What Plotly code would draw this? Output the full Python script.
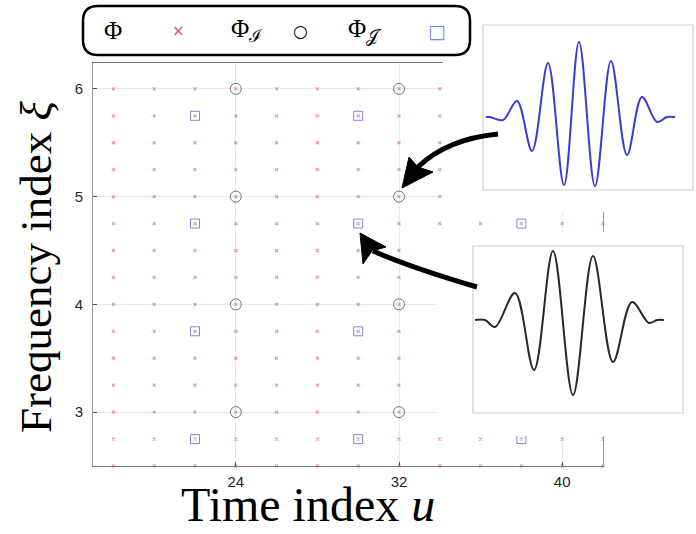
import numpy as np
import plotly.graph_objects as go

W, H = 696, 534

# ---------------- data ----------------
u_phi = [18, 20, 22, 24, 26, 28, 30, 32, 34, 36, 38, 40, 42]
xi_phi = [2.5, 2.75, 3.0, 3.25, 3.5, 3.75, 4.0, 4.25, 4.5, 4.75, 5.0, 5.25, 5.5, 5.75, 6.0, 6.25]
u_I = [24, 32, 40]
xi_I = [3, 4, 5, 6]
u_J = [22, 30, 38]
xi_J = [2.75, 3.75, 4.75, 5.75]

x_ticks = [24, 32, 40]
x_ticklabels = ["24", "32", "40"]
y_ticks = [3, 4, 5, 6]
y_ticklabels = ["3", "4", "5", "6"]

# wavelet sketches (t: horizontal position inside inset, a: height above baseline)
wave1_t = [3, 7, 20, 34, 49, 65, 81, 96, 112, 128, 144, 159, 174, 184, 192]
wave1_a = [0, 0, -3, 16, -34, 54, -68, 75, -69, 56, -38, 20, -5, 0, 0]
wave2_t = [2, 12, 22, 42, 61, 80, 100, 120, 140, 159, 176, 184, 191]
wave2_a = [0, 0, -7, 27, -50, 69, -75, 64, -42, 18, -3, 0, 0]


def P(x, y):
    return x / W, 1 - y / H


def mesh(us, xis):
    U, X = np.meshgrid(us, xis)
    return U.ravel().tolist(), X.ravel().tolist()


phi_x, phi_y = mesh(u_phi, xi_phi)
I_x, I_y = mesh(u_I, xi_I)
J_x, J_y = mesh(u_J, xi_J)

fig = go.Figure()
fig.add_trace(go.Scatter(x=phi_x, y=phi_y, mode="markers", name="Φ", cliponaxis=False,
                         marker=dict(symbol="x-thin", size=3,
                                     line=dict(color="rgba(225,80,105,0.6)", width=1.2)),
                         xaxis="x", yaxis="y", showlegend=False))
fig.add_trace(go.Scatter(x=J_x, y=J_y, mode="markers", name="ΦJ", cliponaxis=False,
                         marker=dict(symbol="square-open", size=9,
                                     color="rgba(110,110,215,0.85)", line=dict(width=1)),
                         xaxis="x", yaxis="y", showlegend=False))
fig.add_trace(go.Scatter(x=I_x, y=I_y, mode="markers", name="ΦI", cliponaxis=False,
                         marker=dict(symbol="circle-open", size=11,
                                     color="rgba(90,90,90,0.85)", line=dict(width=1)),
                         xaxis="x", yaxis="y", showlegend=False))

# inset waves (their subplots also mask the plot behind them)
fig.add_trace(go.Scatter(x=wave1_t, y=wave1_a, mode="lines", xaxis="x2", yaxis="y2",
                         line=dict(color="#3b3bd6", width=2, shape="spline", smoothing=1.0),
                         showlegend=False))
fig.add_trace(go.Scatter(x=wave2_t, y=wave2_a, mode="lines", xaxis="x3", yaxis="y3",
                         line=dict(color="#2a2a2a", width=2, shape="spline", smoothing=1.0),
                         showlegend=False))

# main axes geometry (pixels)
L, R, T, B = 93, 603, 63, 466

tickfont = dict(family="Arial, Liberation Sans, sans-serif", size=15, color="#262626")
hidden = dict(showline=False, showgrid=False, zeroline=False, showticklabels=False, ticks="")

fig.update_layout(
    width=W, height=H, margin=dict(l=0, r=0, t=0, b=0), autosize=False,
    paper_bgcolor="white", plot_bgcolor="white", showlegend=False,
    xaxis=dict(domain=[L / W, R / W], range=[17, 42], tickvals=x_ticks, ticktext=x_ticklabels,
               showgrid=True, gridcolor="#e8e8e8", gridwidth=1, zeroline=False,
               showline=True, linecolor="#7a7a7a", linewidth=1, mirror=True,
               ticks="inside", ticklen=4, tickcolor="#555", tickfont=tickfont, anchor="y",
               ticklabelstandoff=2),
    yaxis=dict(domain=[1 - B / H, 1 - T / H], range=[2.5, 6.24], tickvals=y_ticks, ticktext=y_ticklabels,
               showgrid=True, gridcolor="#e8e8e8", gridwidth=1, zeroline=False,
               showline=True, linecolor="#9a9a9a", linewidth=1, mirror=True,
               ticks="inside", ticklen=4, tickcolor="#555", tickfont=tickfont, anchor="x",
               ticklabelstandoff=6),
    # inset 1: pixel region x 443..696, y 0..212 ; box left 483, baseline 117
    xaxis2=dict(domain=[443 / W, 1], range=[443 - 483, 696 - 483], anchor="y2", **hidden),
    yaxis2=dict(domain=[1 - 212 / H, 1], range=[117 - 212, 117 - 0], anchor="x2", **hidden),
    # inset 2: pixel region x 437..696, y 232..436 ; box left 473, baseline 320
    xaxis3=dict(domain=[437 / W, 1], range=[437 - 473, 696 - 473], anchor="y3", **hidden),
    yaxis3=dict(domain=[1 - 436 / H, 1 - 232 / H], range=[320 - 436, 320 - 232], anchor="x3", **hidden),
)

shapes = []
# inset frames
shapes.append(dict(type="rect", xref="x2", yref="y2", x0=0, x1=210, y0=117 - 190, y1=117 - 25,
                   line=dict(color="#cfcfcf", width=1.2), layer="above"))
shapes.append(dict(type="rect", xref="x3", yref="y3", x0=0, x1=210, y0=320 - 413, y1=320 - 246,
                   line=dict(color="#cfcfcf", width=1.2), layer="above"))


def pp(x, y):
    a, b = P(x, y)
    return f"{a:.5f},{b:.5f}"


# curved arrow 1
shapes.append(dict(type="path", xref="paper", yref="paper",
                   path=f"M {pp(498,134)} Q {pp(447,139)} {pp(418,167)}",
                   line=dict(color="black", width=5)))
shapes.append(dict(type="path", xref="paper", yref="paper",
                   path=f"M {pp(402,188)} L {pp(409,157)} L {pp(418,167)} L {pp(433,172)} Z",
                   fillcolor="black", line=dict(color="black", width=1)))
# curved arrow 2
shapes.append(dict(type="path", xref="paper", yref="paper",
                   path=f"M {pp(477,287)} Q {pp(412,268)} {pp(373,251)}",
                   line=dict(color="black", width=5)))
shapes.append(dict(type="path", xref="paper", yref="paper",
                   path=f"M {pp(360,233)} L {pp(363,264)} L {pp(372,251)} L {pp(386,247)} Z",
                   fillcolor="black", line=dict(color="black", width=1)))

# legend box (rounded)
x0, y0, x1, y1, r = 83, 6, 470, 55, 15
lp = (f"M {pp(x0 + r, y0)} L {pp(x1 - r, y0)} Q {pp(x1, y0)} {pp(x1, y0 + r)} "
      f"L {pp(x1, y1 - r)} Q {pp(x1, y1)} {pp(x1 - r, y1)} L {pp(x0 + r, y1)} "
      f"Q {pp(x0, y1)} {pp(x0, y1 - r)} L {pp(x0, y0 + r)} Q {pp(x0, y0)} {pp(x0 + r, y0)} Z")
shapes.append(dict(type="path", xref="paper", yref="paper", path=lp,
                   line=dict(color="black", width=2.5), fillcolor="white", layer="above"))
fig.update_layout(shapes=shapes)

serif = "Liberation Serif, Times New Roman, DejaVu Serif, serif"
ann = []


def A(text, x, y, size, color="black", family=serif, angle=0, yanchor="middle"):
    a, b = P(x, y)
    ann.append(dict(text=text, x=a, y=b, xref="paper", yref="paper", showarrow=False,
                    xanchor="center", yanchor=yanchor, textangle=angle,
                    font=dict(family=family, size=size, color=color)))


A("Φ", 113, 30, 25)
A("×", 178, 31, 15, color="#e0506e", family="DejaVu Sans, sans-serif")
A("Φ<sub>ℐ</sub>", 247, 30, 25)
A("○", 300, 31, 17, family="DejaVu Sans, sans-serif")
A("Φ<sub>𝒥</sub>", 364, 30, 25)
A("□", 437, 31, 19, color="#6a92dc", family="DejaVu Sans, sans-serif")

A("Time index <i>u</i>", 308, 533, 48, yanchor="bottom")
A("Frequency index <i>ξ</i>", 36, 267, 45, angle=-90)
fig.update_layout(annotations=ann)

fig.write_html("out.html")
